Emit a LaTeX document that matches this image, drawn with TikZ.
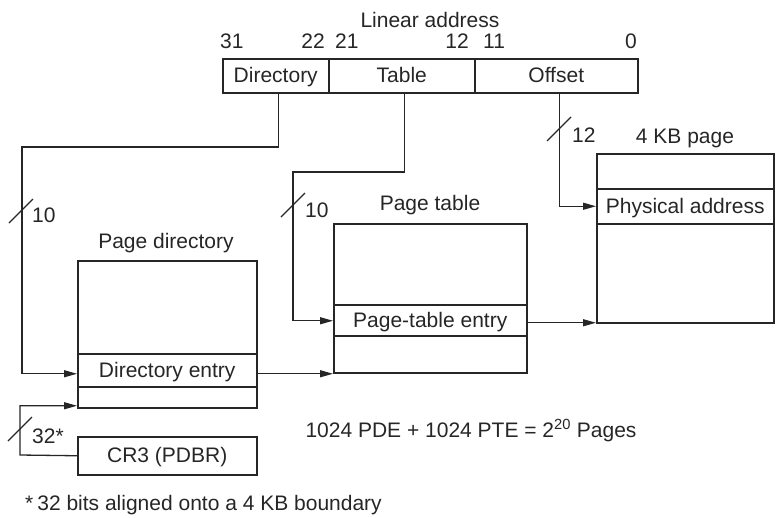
\documentclass[tikz,border=0pt]{standalone}
\usepackage{fontspec}
\setmainfont{Liberation Sans}
\usetikzlibrary{arrows.meta}
\definecolor{ink}{HTML}{262626}
\begin{document}
\begin{tikzpicture}[x=1pt,y=-1pt,
  every node/.style={font=\fontsize{21}{25}\selectfont, text=ink},
  cell/.style={draw=ink, line width=1.5pt, inner sep=0pt, anchor=north west, text height=15pt, text depth=1pt},
  lbl/.style={inner sep=0pt, anchor=base},
  wire/.style={draw=ink, line width=1.3pt},
  arr/.style={wire, -{Triangle[length=13pt,width=7pt]}},
  tick/.style={draw=ink, line width=1.2pt}]
\useasboundingbox (0,0) rectangle (776,517);

% linear address
\node[lbl] (lintitle) at (430,27) {Linear address};
\node[cell, minimum width=106pt, minimum height=34pt] (dirf) at (222,58) {Directory};
\node[cell, minimum width=146pt, minimum height=34pt] (tabf) at (328,58) {Table};
\node[cell, minimum width=163pt, minimum height=34pt] (offf) at (474,58) {Offset};
\node[lbl, anchor=base west] (b31) at (220,48) {31};
\node[lbl, anchor=base east] (b22) at (325,48) {22};
\node[lbl, anchor=base west] (b21) at (335,48) {21};
\node[lbl, anchor=base east] (b12) at (469,48) {12};
\node[lbl, anchor=base west] (b11) at (483,48) {11};
\node[lbl, anchor=base east] (b0) at (637,48) {0};

% page directory
\node[lbl] (pdtitle) at (166,248) {Page directory};
\node[cell, minimum width=179pt, minimum height=93pt] (pdtop) at (77,260) {};
\node[cell, minimum width=179pt, minimum height=33pt] (pde) at (77,353) {Directory entry};
\node[cell, minimum width=179pt, minimum height=21pt] (pdbot) at (77,386) {};

% page table
\node[lbl] (pttitle) at (430,210) {Page table};
\node[cell, minimum width=193pt, minimum height=81pt] (pttop) at (333,223) {};
\node[cell, minimum width=193pt, minimum height=31pt] (pte) at (333,304) {Page-table entry};
\node[cell, minimum width=193pt, minimum height=37pt] (ptbot) at (333,335) {};

% 4 KB page
\node[lbl] (pgtitle) at (685,143) {4 KB page};
\node[cell, minimum width=177pt, minimum height=35pt] (pgtop) at (596,153) {};
\node[cell, minimum width=177pt, minimum height=35pt] (pgphys) at (596,188) {Physical address};
\node[cell, minimum width=177pt, minimum height=99pt] (pgbot) at (596,223) {};

% CR3
\node[cell, minimum width=179pt, minimum height=38pt] (cr3) at (77,436) {CR3 (PDBR)};

% connectors
\draw[arr] ([xshift=3pt]dirf.south) |- (22,147) |- ([yshift=-3.5pt]pde.west);
\draw[arr] ([xshift=3pt]tabf.south) |- (293,172) |- ([yshift=-0.5pt]pte.west);
\draw[arr] ([xshift=3.5pt]offf.south) |- (pgphys.west);
\draw[arr] ([yshift=-3.5pt]pde.east) -- ([yshift=-3.5pt]pde.east -| ptbot.west);
\draw[arr] ([yshift=-2.5pt]pte.east) -- ([yshift=-2.5pt]pte.east -| pgbot.west);
\draw[arr] (cr3.west) -- (20,455) |- ([yshift=-8.5pt]pdbot.west);

% bus-width ticks
\draw[tick] (9,223) -- (33,199);
\draw[tick] (281,217) -- (305,193);
\draw[tick] (547,141) -- (571,117);
\draw[tick] (8,441) -- (32,417);

\node[lbl, anchor=base west] (w10a) at (32,222) {10};
\node[lbl, anchor=base west] (w10b) at (305,217) {10};
\node[lbl, anchor=base west] (w12) at (572,142) {12};
\node[lbl, anchor=base west] (w32) at (32,443) {32*};

% notes
\node[lbl] (sum) at (471,437) {1024 PDE + 1024 PTE = 2\textsuperscript{20} Pages};
\node[lbl, anchor=base west] (foot) at (25,510) {*\hspace{4pt}32 bits aligned onto a 4 KB boundary};
\end{tikzpicture}
\end{document}
